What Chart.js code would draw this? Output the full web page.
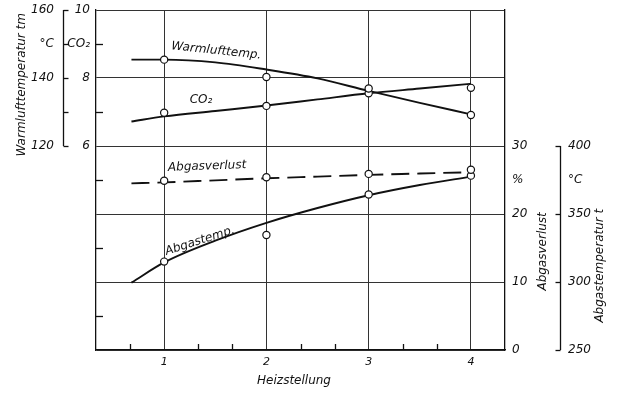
<!DOCTYPE html>
<html>
<head>
<meta charset="utf-8">
<script src="https://cdn.jsdelivr.net/npm/chart.js@4/dist/chart.umd.min.js"></script>
<style>
  body { margin: 0; background: #fff; }
  #wrap { width: 628px; height: 394px; }
</style>
</head>
<body>
<div id="wrap"><canvas id="diagramm" width="628" height="394"></canvas></div>
<script>
// Messpunkte je Heizstellung
const heizstellung = [1, 2, 3, 4];
const warmluftMess = [145.4, 140.3, 136.9, 129.1];
const co2Mess = [6.98, 7.18, 7.55, 7.71];
const verlustMess = [24.9, 25.4, 25.9, 26.5];
const abgastempMess = [315.0, 334.6, 364.3, 378.2];

// ausgeglichene Kurven
const kurveX = [0.68, 1, 1.5, 2, 2.5, 3, 3.5, 4];
const warmluftKurve = [145.4, 145.4, 144.6, 142.5, 139.9, 136.2, 132.7, 129.3];
const co2Kurve = [6.72, 6.87, 7.03, 7.19, 7.37, 7.55, 7.69, 7.83];
const verlustKurve = [24.5, 24.65, 24.95, 25.25, 25.5, 25.75, 25.95, 26.15];
const abgastempKurve = [299.5, 314.4, 330.4, 343.5, 354.4, 363.8, 371.3, 377.5];

// Achsbeschriftungen
const warmluftTicks = { 160: "160", 150: "°C", 140: "140", 120: "120" };
const co2Ticks = { 10: "10", 9: "CO₂", 8: "8", 6: "6" };
const verlustTicks = { 30: "30", 25: "%", 20: "20", 10: "10", 0: "0" };
const abgastempTicks = { 400: "400", 375: "°C", 350: "350", 300: "300", 250: "250" };
const warmluftKlammer = [120, 130, 140, 150, 160];
const abgastempKlammer = [250, 300, 350, 400];
const co2NebenTicks = [1, 3, 5, 7, 9];
const xNebenTicks = [2 / 3, 4 / 3, 5 / 3, 7 / 3, 8 / 3, 10 / 3, 11 / 3];

const schrift = "'DejaVu Sans', sans-serif";
const schwarz = "#111";

function punkte(xs, ys) {
    return xs.map((x, i) => ({ x: x, y: ys[i] }));
}

function kurve(daten, achse, dash) {
    return {
        data: punkte(kurveX, daten),
        yAxisID: achse,
        borderColor: schwarz,
        borderWidth: 1.9,
        borderDash: dash || [],
        pointRadius: 0,
        cubicInterpolationMode: "monotone",
        order: 2,
    };
}

function messung(daten, achse) {
    return {
        data: punkte(heizstellung, daten),
        yAxisID: achse,
        showLine: false,
        pointRadius: 3.6,
        pointBorderWidth: 1.2,
        pointBorderColor: schwarz,
        pointBackgroundColor: "#fff",
        order: 1,
    };
}

// feste Breite, kein Zusatzrand oben/unten
function festeBreite(breite) {
    return (s) => {
        s.width = breite;
        s.paddingTop = 0;
        s.paddingBottom = 0;
    };
}

function seitenAchse(pos, min, max, step, labels, breite, abstand, gewicht, rand) {
    return {
        type: "linear",
        position: pos,
        min: min,
        max: max,
        weight: gewicht,
        afterFit: festeBreite(breite),
        ticks: {
            stepSize: step,
            padding: abstand,
            color: schwarz,
            font: { family: schrift, size: 12, style: "italic" },
            callback: (v) => (labels[v] !== undefined ? labels[v] : ""),
        },
        grid: { drawOnChartArea: false, drawTicks: false },
        border: { display: rand, color: schwarz, width: 1.3 },
    };
}

function textDrehen(ctx, text, x, y, winkel, align) {
    ctx.save();
    ctx.translate(x, y);
    ctx.rotate(winkel * Math.PI / 180);
    ctx.textAlign = align || "center";
    ctx.textBaseline = "middle";
    ctx.fillText(text, 0, 0);
    ctx.restore();
}

// Klammern, innere Striche und Beschriftungen
const beschriftung = {
    id: "beschriftung",
    afterDraw(chart) {
        const ctx = chart.ctx;
        const s = chart.scales;
        const ca = chart.chartArea;
        ctx.save();
        ctx.strokeStyle = schwarz;
        ctx.fillStyle = schwarz;
        ctx.lineWidth = 1.3;

        // innere Teilstriche
        co2NebenTicks.forEach((v) => {
            const y = Math.round(s.yC.getPixelForValue(v)) + 0.5;
            ctx.beginPath(); ctx.moveTo(ca.left, y); ctx.lineTo(ca.left + 7, y); ctx.stroke();
        });
        xNebenTicks.forEach((v) => {
            const x = Math.round(s.x.getPixelForValue(v)) + 0.5;
            ctx.beginPath(); ctx.moveTo(x, ca.bottom); ctx.lineTo(x, ca.bottom - 6); ctx.stroke();
        });

        // Klammer Warmlufttemperatur
        let kx = s.yW.right + 3.5;
        ctx.beginPath();
        ctx.moveTo(kx, s.yW.getPixelForValue(160));
        ctx.lineTo(kx, s.yW.getPixelForValue(120));
        ctx.stroke();
        warmluftKlammer.forEach((v) => {
            const y = Math.round(s.yW.getPixelForValue(v)) + 0.5;
            ctx.beginPath(); ctx.moveTo(kx, y); ctx.lineTo(kx + 5, y); ctx.stroke();
        });

        // Klammer Abgastemperatur
        kx = s.yT.left + 3.5;
        ctx.beginPath();
        ctx.moveTo(kx, s.yT.getPixelForValue(400));
        ctx.lineTo(kx, s.yT.getPixelForValue(250));
        ctx.stroke();
        abgastempKlammer.forEach((v) => {
            const y = Math.round(s.yT.getPixelForValue(v)) + 0.5;
            ctx.beginPath(); ctx.moveTo(kx, y); ctx.lineTo(kx - 5, y); ctx.stroke();
        });

        // Achstitel
        ctx.font = "italic 12px " + schrift;
        textDrehen(ctx, "Warmlufttemperatur tm", s.yW.left + 22, s.yW.getPixelForValue(138), -90);
        textDrehen(ctx, "Abgasverlust", s.yV.left + 38, s.yV.getPixelForValue(14.5), -90);
        textDrehen(ctx, "Abgastemperatur t", s.yT.left + 43, s.yT.getPixelForValue(312), -90);
        textDrehen(ctx, "Heizstellung", s.x.getPixelForValue(2.27), ca.bottom + 31, 0);

        // Kurvenbeschriftungen
        textDrehen(ctx, "Warmlufttemp.", s.x.getPixelForValue(1.51), s.yW.getPixelForValue(148.0), 6);
        textDrehen(ctx, "CO₂", s.x.getPixelForValue(1.36), s.yC.getPixelForValue(7.37), 0);
        textDrehen(ctx, "Abgasverlust", s.x.getPixelForValue(1.42), s.yV.getPixelForValue(27.0), -2);
        textDrehen(ctx, "Abgastemp.", s.x.getPixelForValue(1.35), s.yT.getPixelForValue(330.2), -18);
        ctx.restore();
    },
};

new Chart(document.getElementById("diagramm"), {
    type: "line",
    data: {
        datasets: [
            kurve(warmluftKurve, "yW"),
            messung(warmluftMess, "yW"),
            kurve(co2Kurve, "yC"),
            messung(co2Mess, "yC"),
            kurve(verlustKurve, "yV", [18, 8]),
            messung(verlustMess, "yV"),
            kurve(abgastempKurve, "yT"),
            messung(abgastempMess, "yT"),
        ],
    },
    options: {
        responsive: false,
        animation: false,
        layout: { padding: { top: 10, bottom: 0, left: 0, right: 0 } },
        plugins: { legend: { display: false }, tooltip: { enabled: false } },
        scales: {
            x: {
                type: "linear",
                min: 1 / 3,
                max: 13 / 3,
                afterBuildTicks: (s) => { s.ticks = heizstellung.map((v) => ({ value: v })); },
                afterFit: (s) => {
                    s.height = 44;
                    s.paddingLeft = 0;
                    s.paddingRight = 0;
                },
                ticks: {
                    padding: 6,
                    color: schwarz,
                    font: { family: schrift, size: 11, style: "italic" },
                },
                grid: { color: "#333", lineWidth: 1, drawTicks: false },
                border: { color: schwarz, width: 1.3 },
            },
            yC: {
                type: "linear",
                position: "left",
                min: 0,
                max: 10,
                weight: 0,
                afterFit: festeBreite(36),
                ticks: {
                    stepSize: 1,
                    padding: 6,
                    color: schwarz,
                    font: { family: schrift, size: 12, style: "italic" },
                    callback: (v) => (co2Ticks[v] !== undefined ? co2Ticks[v] : ""),
                },
                grid: {
                    drawTicks: false,
                    lineWidth: 1,
                    color: (c) => (c.tick && c.tick.value % 2 === 0 ? "#333" : "rgba(0,0,0,0)"),
                },
                border: { color: schwarz, width: 1.3 },
            },
            yW: seitenAchse("left", 60, 160, 10, warmluftTicks, 60, 6, 1, false),
            yV: seitenAchse("right", 0, 50, 5, verlustTicks, 52, 7, 0, true),
            yT: seitenAchse("right", 250, 500, 25, abgastempTicks, 71, 11, 1, false),
        },
    },
    plugins: [beschriftung],
});
</script>
</body>
</html>
